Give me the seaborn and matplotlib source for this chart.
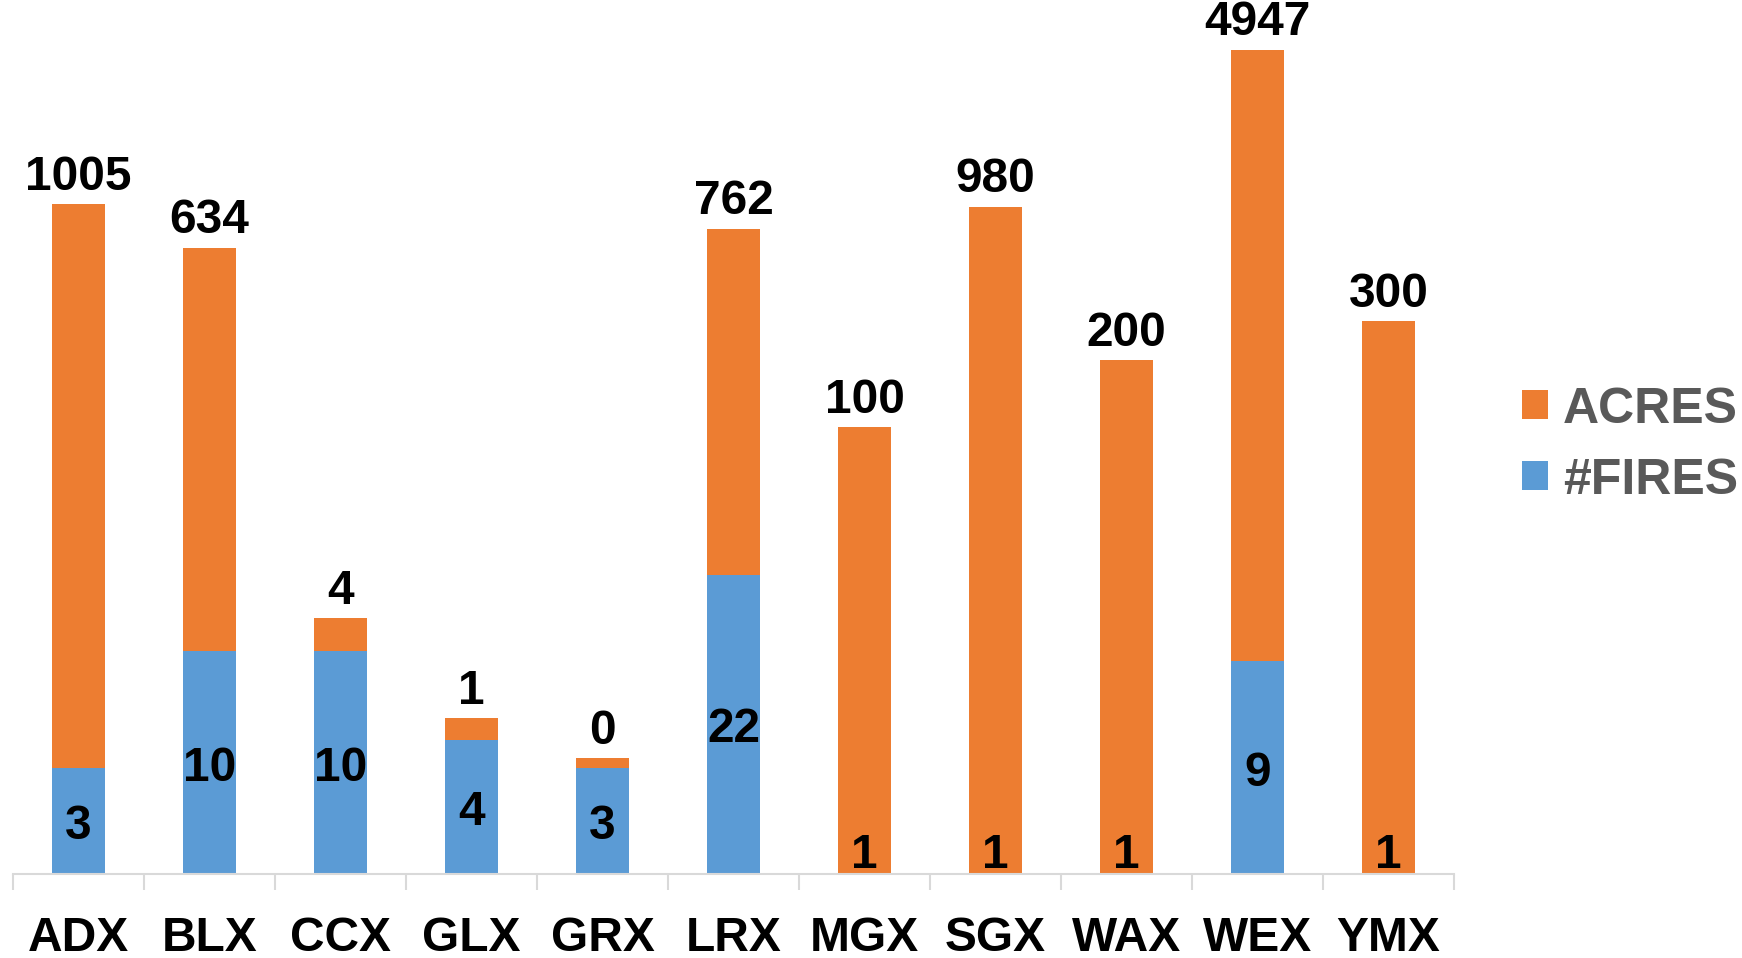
import numpy as np
import pandas as pd
import matplotlib
matplotlib.use("Agg")
import matplotlib.pyplot as plt
import seaborn as sns
from matplotlib.patches import Patch
from matplotlib.ticker import FixedLocator, NullFormatter

# ---- data ----
stations = ["ADX", "BLX", "CCX", "GLX", "GRX", "LRX", "MGX", "SGX", "WAX", "WEX", "YMX"]
fires = [3, 10, 10, 4, 3, 22, 1, 1, 1, 9, 1]
acres = [1005, 634, 4, 1, 0.3, 762, 100, 980, 200, 4947, 300]

ORANGE = "#ED7D31"
BLUE = "#5B9BD5"

sns.set_theme(style="white")
plt.rcParams['font.family'] = ['Liberation Sans', 'DejaVu Sans']

df = pd.DataFrame({"station": stations, "fires": fires, "acres": acres})
df["total"] = df["fires"] + df["acres"]

W, H = 1742, 958
fig = plt.figure(figsize=(W / 100, H / 100), dpi=100)
ax = fig.add_axes([13 / W, (H - 874) / H, 1441 / W, 874 / H])

sns.barplot(data=df, x="station", y="total", color=ORANGE, width=0.4,
            saturation=1, ax=ax, order=stations)
sns.barplot(data=df, x="station", y="fires", color=BLUE, width=0.4,
            saturation=1, ax=ax, order=stations)

ax.set_yscale("log")
decade_px = 223.0
ax.set_ylim(1, 10 ** (874 / decade_px))
ax.set_xlim(-0.5, len(stations) - 0.5)

for p in ax.patches:
    p.set_edgecolor("none")
    p.set_linewidth(0)

fs = 34.5
# fires labels at geometric center of segment, clamped above the base
min_y = 10 ** (24 / decade_px)
for i, f in enumerate(fires):
    y = max(np.sqrt(f), min_y)
    ax.annotate(str(f), xy=(i, y), xytext=(0, -4), textcoords="offset points",
                ha="center", va="center", fontsize=fs,
                fontweight="bold", color="black")
# acres labels above bar top
for i, (a, t) in enumerate(zip(acres, df["total"])):
    ax.annotate(f"{a:.0f}", xy=(i, t), xytext=(0, 27 * 0.72), textcoords="offset points",
                ha="center", va="center", fontsize=fs, fontweight="bold", color="black")

ax.set_xlabel("")
ax.set_ylabel("")
ax.set_yticks([])
ax.yaxis.set_minor_locator(FixedLocator([]))
for s in ["left", "right", "top"]:
    ax.spines[s].set_visible(False)
ax.spines["bottom"].set_color("#D9D9D9")
ax.spines["bottom"].set_linewidth(1.5)

ax.tick_params(axis="x", which="major", length=0, pad=30, labelsize=fs, labelcolor="black")
for lbl in ax.get_xticklabels():
    lbl.set_fontweight("bold")
ax.xaxis.set_minor_locator(FixedLocator(np.arange(-0.5, len(stations), 1.0)))
ax.xaxis.set_minor_formatter(NullFormatter())
ax.tick_params(axis="x", which="minor", length=11.5, width=1.5, color="#D9D9D9",
               direction="out", bottom=True)

handles = [Patch(facecolor=ORANGE, edgecolor="none", label="ACRES"),
           Patch(facecolor=BLUE, edgecolor="none", label="#FIRES")]
leg = fig.legend(handles=handles, loc="center left",
                 bbox_to_anchor=(1497 / W, 1 - 445 / H), frameon=False,
                 fontsize=fs + 1.5, handlelength=0.52, handleheight=0.52,
                 handletextpad=0.3, labelspacing=0.5, borderpad=0)
for t in leg.get_texts():
    t.set_color("#595959")
    t.set_fontweight("bold")

fig.savefig("out.png", dpi=100)
